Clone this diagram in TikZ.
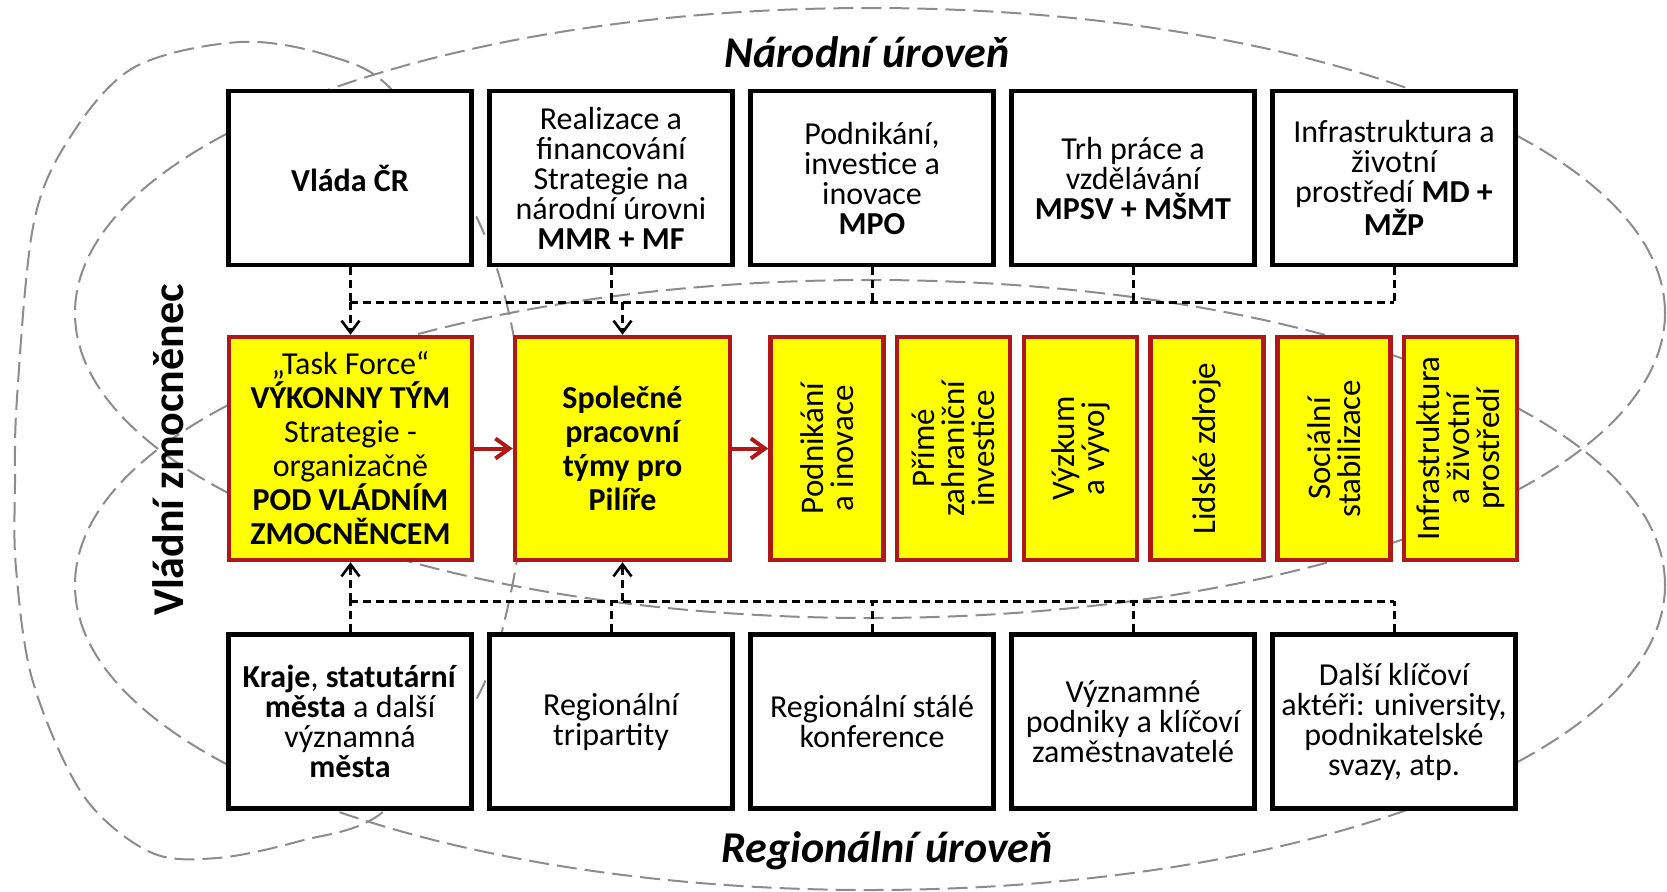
\documentclass[tikz,border=0pt]{standalone}
\usepackage{fontspec}
\setmainfont{Carlito}
\usetikzlibrary{
  arrows.meta
}
\definecolor{pillarred}{RGB}{176,24,24}
\definecolor{pillaryellow}{RGB}{255,255,0}
\definecolor{loopgray}{RGB}{140,140,140}
\tikzset{
  % Shared values that are assigned to different keys in the styles below.
  globals/border width/.initial=2.2pt,
  globals/box width/.initial=121.5pt,
  globals/box height/.initial=87pt,
  globals/row height/.initial=111.5pt,
%
  % For the white boxes of both levels.
  level box/.style={
    draw,
    fill=white,
    line width=\pgfkeysvalueof{/tikz/globals/border width},
    minimum width=\pgfkeysvalueof{/tikz/globals/box width},
    minimum height=\pgfkeysvalueof{/tikz/globals/box height},
    inner sep=1pt,
    align=center,
    font={\fontsize{16pt}{15pt}\selectfont}},
%
  % For the yellow boxes in the middle row.
  team box/.style={
    draw=pillarred,
    fill=pillaryellow,
    line width=\pgfkeysvalueof{/tikz/globals/border width},
    minimum height=\pgfkeysvalueof{/tikz/globals/row height},
    inner sep=1pt,
    align=center,
    font={\fontsize{16pt}{17pt}\selectfont}},
%
  % For the narrow pillars.  The node is turned, so its width is vertical.
  pillar/.style={
    team box,
    rotate=90,
    minimum width=\pgfkeysvalueof{/tikz/globals/row height},
    minimum height=56.5pt,
    font={\fontsize{16.5pt}{15pt}\selectfont}},
%
  % For the dashed grey loops round the groups.
  loop line/.style={
    draw=loopgray,
    line width=1pt,
    dash pattern=on 10pt off 4pt},
%
  % For dashed black links between the rows.
  link/.style={
    line width=1.5pt,
    dash pattern=on 4pt off 2.5pt},
  link arrow/.style={
    link,
    -{Straight Barb[length=6pt,width=9pt,line width=1.3pt]}},
%
  % For red arrows in the middle row.
  flow/.style={
    draw=pillarred,
    line width=2pt,
    -{Straight Barb[length=7pt,width=10pt,line width=2pt]}},
%
  % For the level titles.
  level title/.style={
    font={\fontsize{22pt}{26pt}\selectfont\bfseries\itshape}}
}

\begin{document}
\begin{tikzpicture}[x=0.5pt,y=-0.5pt]
  \useasboundingbox (0,0) rectangle (1667,891);

  % Loops first, the boxes cover them.
  \draw[loop line] (870,313) ellipse [x radius=397.5pt, y radius=152.5pt];
  \draw[loop line] (870,585) ellipse [x radius=397.5pt, y radius=152.5pt];
  \draw[loop line] plot[smooth cycle, tension=0.55] coordinates {
    (240,42) (330,56) (393,91) (473,210) (510,318) (527,455) (510,597)
    (473,705) (383,812) (300,841) (217,858) (150,852) (83,795) (33,682)
    (16,568) (15,483) (17,398) (33,227) (67,142) (133,68)};

  % National level.
  \foreach \txt [count=\i] in {
    {\textbf{Vláda ČR}},
    {Realizace a\\financování\\Strategie na\\národní úrovni\\\textbf{MMR + MF}},
    {Podnikání,\\investice a\\inovace\\\textbf{MPO}},
    {Trh práce a\\vzdělávání\\\textbf{MPSV + MŠMT}},
    {Infrastruktura a\\životní\\prostředí \textbf{MD +}\\\textbf{MŽP}}}
    \node[level box] (top\i) at ({350+261*(\i-1)},178) {\txt};

  % Regional level.
  \foreach \txt [count=\i] in {
    {\textbf{Kraje}, \textbf{statutární}\\\textbf{města} a další\\významná\\\textbf{města}},
    {Regionální\\tripartity},
    {Regionální stálé\\konference},
    {Významné\\podniky a klíčoví\\zaměstnavatelé},
    {Další klíčoví\\aktéři: university,\\podnikatelské\\svazy, atp.}}
    \node[level box] (bot\i) at ({350+261*(\i-1)},721.5) {\txt};

  % Middle row.
  \node[team box, minimum width=121.5pt] (task) at (350.5,448.5)
    {„Task Force“\\\textbf{VÝKONNY TÝM}\\Strategie -\\organizačně\\%
     \textbf{POD VLÁDNÍM}\\\textbf{ZMOCNĚNCEM}};
  \node[team box, minimum width=107.5pt, font={\fontsize{16pt}{17pt}\selectfont\bfseries}]
    (team) at (622.5,448.5) {Společné\\pracovní\\týmy pro\\Pilíře};
  \foreach \txt [count=\i] in {
    {Podnikání\\a inovace},
    {Přímé\\zahraniční\\investice},
    {Výzkum\\a vývoj},
    {Lidské zdroje},
    {Sociální\\stabilizace},
    {Infrastruktura\\a životní\\prostředí}}
    \node[pillar] (pillar\i) at ({827+126.7*(\i-1)},448.5) {\txt};

  \draw[flow] (task) -- (team);
  \draw[flow] (team) -- (pillar1);

  % Dashed links.
  \coordinate (nbus) at (0,302);
  \coordinate (rbus) at (0,601);
  \foreach \i in {1,...,5}
    {\draw[link] (top\i.south) -- (top\i.south |- nbus);
     \draw[link] (bot\i.north) -- (bot\i.north |- rbus);}
  \draw[link] (top1.south |- nbus) -- (top5.south |- nbus);
  \draw[link] (bot1.north |- rbus) -- (bot5.north |- rbus);
  \draw[link arrow] (task.north |- nbus) -- (task.north);
  \draw[link arrow] (team.north |- nbus) -- (team.north);
  \draw[link arrow] (task.south |- rbus) -- (task.south);
  \draw[link arrow] (team.south |- rbus) -- (team.south);

  % Titles.
  \node[level title, anchor=base] (national) at (867,67) {Národní úroveň};
  \node[level title, anchor=base] (regional) at (887,862) {Regionální úroveň};
  \node[font={\fontsize{22pt}{26pt}\selectfont\bfseries}, rotate=90]
    (commissioner) at (168,450) {Vládní zmocněnec};
\end{tikzpicture}
\end{document}
